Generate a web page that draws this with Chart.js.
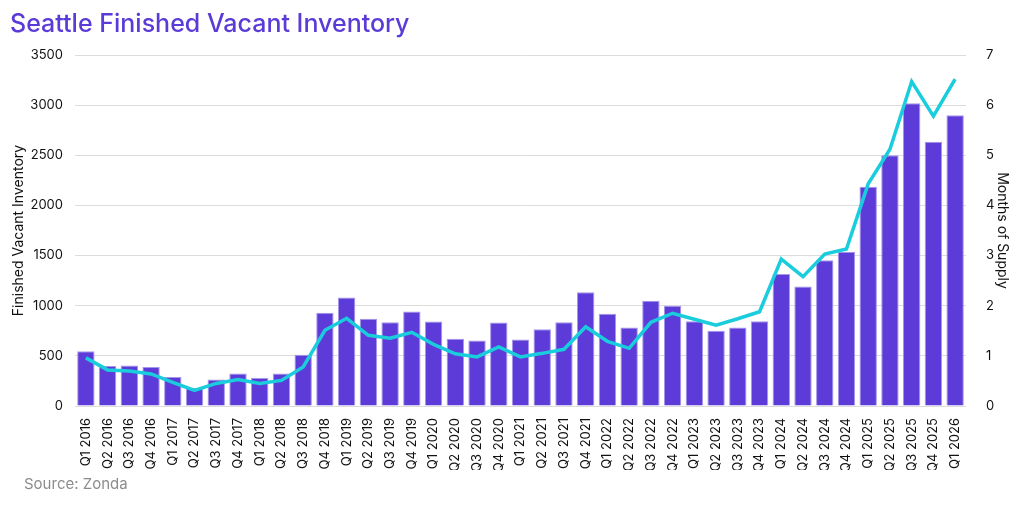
<!DOCTYPE html>
<html>
<head>
<meta charset="utf-8">
<script src="https://cdn.jsdelivr.net/npm/chart.js@4/dist/chart.umd.min.js"></script>
<style>
html,body{margin:0;padding:0;background:#fff;}
#wrap{width:1023px;height:506px;position:relative;}
#src{position:absolute;left:24px;top:475px;font:15px Inter,'Noto Sans',sans-serif;color:#8c8c8c;line-height:18px;}
</style>
</head>
<body>
<div id="wrap"><canvas id="c" width="1023" height="506"></canvas><div id="src">Source: Zonda</div></div>
<script>
const categories = ["Q1 2016","Q2 2016","Q3 2016","Q4 2016","Q1 2017","Q2 2017","Q3 2017","Q4 2017","Q1 2018","Q2 2018","Q3 2018","Q4 2018","Q1 2019","Q2 2019","Q3 2019","Q4 2019","Q1 2020","Q2 2020","Q3 2020","Q4 2020","Q1 2021","Q2 2021","Q3 2021","Q4 2021","Q1 2022","Q2 2022","Q3 2022","Q4 2022","Q1 2023","Q2 2023","Q3 2023","Q4 2023","Q1 2024","Q2 2024","Q3 2024","Q4 2024","Q1 2025","Q2 2025","Q3 2025","Q4 2025","Q1 2026"];
const inventory = [545,400,405,390,290,180,265,325,280,325,510,930,1082,870,836,942,843,670,654,833,664,766,836,1134,919,783,1049,999,846,750,783,845,1317,1191,1453,1539,2186,2500,3019,2634,2899];
const monthsSupply = [0.96,0.72,0.70,0.64,0.47,0.31,0.45,0.53,0.45,0.51,0.78,1.51,1.75,1.41,1.35,1.47,1.23,1.04,0.98,1.18,0.98,1.05,1.13,1.58,1.29,1.15,1.67,1.85,1.73,1.61,1.74,1.88,2.93,2.58,3.03,3.13,4.43,5.12,6.47,5.78,6.52];
const leftTicks = [0,500,1000,1500,2000,2500,3000,3500];
const rightTicks = [0,1,2,3,4,5,6,7];

const FONT = "Inter, 'Noto Sans', sans-serif";
Chart.defaults.font.family = FONT;

new Chart(document.getElementById('c'), {
  data: {
    labels: categories,
    datasets: [
      {
        type: 'line',
        label: 'Months of Supply',
        data: monthsSupply,
        yAxisID: 'y1',
        borderColor: '#19cddc',
        borderWidth: 3.5,
        pointRadius: 0,
        tension: 0,
        order: 1
      },
      {
        type: 'bar',
        label: 'Finished Vacant Inventory',
        data: inventory,
        yAxisID: 'y',
        backgroundColor: '#5d3bd8',
        borderColor: '#a596ea',
        borderWidth: 1,
        barPercentage: 0.8,
        categoryPercentage: 1.0,
        order: 2
      }
    ]
  },
  options: {
    responsive: false,
    animation: false,
    devicePixelRatio: 1,
    layout: { padding: { left: 10, right: 12, top: 0, bottom: 36 } },
    plugins: {
      legend: { display: false },
      tooltip: { enabled: false },
      title: {
        display: true,
        text: 'Seattle Finished Vacant Inventory',
        align: 'start',
        color: '#5b3bd8',
        font: { size: 25, weight: '500', family: FONT },
        padding: { top: 9, bottom: 16 }
      }
    },
    scales: {
      x: {
        grid: { display: false },
        border: { display: false },
        ticks: {
          autoSkip: false,
          maxRotation: 90,
          minRotation: 90,
          color: '#111',
          font: { size: 13 },
          padding: 4
        },
        afterFit: (s) => { s.height = 64; }
      },
      y: {
        position: 'left',
        min: 0,
        max: 3500,
        afterBuildTicks: (s) => { s.ticks = leftTicks.map(v => ({ value: v })); },
        grid: { color: '#dcdcdc', lineWidth: 1, drawTicks: false },
        border: { display: false },
        ticks: { color: '#111', font: { size: 13 }, padding: 12, callback: (v) => String(v) },
        title: { display: true, text: 'Finished Vacant Inventory', color: '#111', font: { size: 14 }, padding: 0 },
        afterFit: (s) => { s.width = 65; }
      },
      y1: {
        position: 'right',
        min: 0,
        max: 7,
        afterBuildTicks: (s) => { s.ticks = rightTicks.map(v => ({ value: v })); },
        grid: { display: false },
        border: { display: false },
        ticks: { color: '#111', font: { size: 13 }, padding: 12, callback: (v) => String(v) },
        title: { display: true, text: 'Months of Supply', color: '#111', font: { size: 14 }, padding: 0 },
        afterFit: (s) => { s.width = 45; }
      }
    }
  }
});
</script>
</body>
</html>
